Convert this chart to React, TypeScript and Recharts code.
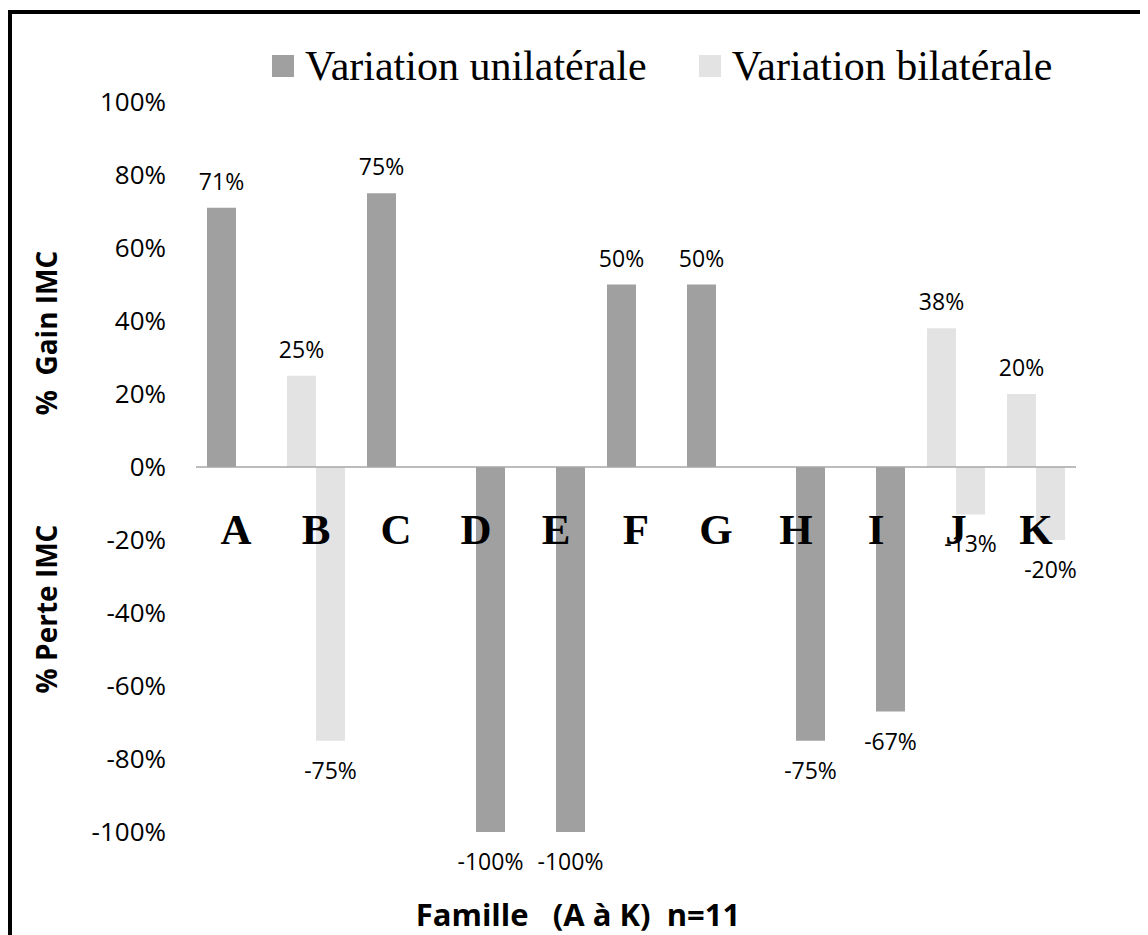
import { BarChart, Bar, XAxis, YAxis, ReferenceLine, Legend, LabelList, Label } from "recharts";

// Families A..K, BMI change per family (percent)
const families = ["A", "B", "C", "D", "E", "F", "G", "H", "I", "J", "K"];
const uniGain = [71, null, 75, null, null, 50, 50, null, null, null, null];
const biGain = [null, 25, null, null, null, null, null, null, null, 38, 20];
const uniLoss = [null, null, null, -100, -100, null, null, -75, -67, null, null];
const biLoss = [null, -75, null, null, null, null, null, null, null, -13, -20];
const yTicks = [-100, -80, -60, -40, -20, 0, 20, 40, 60, 80, 100];
const legendOrder = ["Variation unilatérale", "Variation bilatérale"];

const UNI_COLOR = "#a0a0a0";
const BI_COLOR = "#e3e3e3";

const W = 1140;
const H = 927;

const data = families.map((f, i) => ({
    famille: f,
    uniGain: uniGain[i],
    biGain: biGain[i],
    uniLoss: uniLoss[i],
    biLoss: biLoss[i],
}));

const sans = '"Open Sans", sans-serif';
const serif = '"Liberation Serif", "Times New Roman", serif';

// percent label above positive bars, below negative ones
const ValueLabel = (props: any) => {
    const { x, y, width, height, value } = props;
    if (value === null || value === undefined) return null;
    const top = Math.min(y, y + height);
    const bottom = Math.max(y, y + height);
    const cx = x + width / 2;
    const ty = value >= 0 ? top - 18 : bottom + 38;
    return (
        <text x={cx} y={ty} textAnchor="middle" fontFamily={sans} fontSize={23} fill="#000">
            {value}%
        </text>
    );
};

// family letters sit just under the zero line
const FamilyTick = (props: any) => {
    const { x, y, payload } = props;
    return (
        <text x={x} y={y - 288} textAnchor="middle" fontFamily={serif} fontWeight="bold" fontSize={43} fill="#000">
            {payload.value}
        </text>
    );
};

const YTitles = () => (
    <g fontFamily={sans} fontWeight="bold" fontSize={28} fill="#000">
        <text transform="translate(49,325) rotate(-90)" textAnchor="middle" style={{ whiteSpace: "pre" }}>
            {"%  Gain IMC"}
        </text>
        <text transform="translate(49,601) rotate(-90)" textAnchor="middle" style={{ whiteSpace: "pre" }}>
            {"% Perte IMC"}
        </text>
    </g>
);

const XTitle = () => (
    <text x={W / 2} y={918} textAnchor="middle" fontFamily={sans} fontWeight="bold" fontSize={31} fill="#000" style={{ whiteSpace: "pre" }}>
        {"Famille   (A à K)  n=11"}
    </text>
);

const LegendContent = (props: any) => {
    const items = (props.payload || [])
        .filter((p: any) => p.type !== "none")
        .sort((a: any, b: any) => legendOrder.indexOf(a.value) - legendOrder.indexOf(b.value));
    return (
        <div style={{ display: "flex", alignItems: "center" }}>
            {items.map((it: any) => (
                <div key={it.value} style={{ display: "flex", alignItems: "center", marginRight: 52 }}>
                    <span style={{ display: "inline-block", width: 22, height: 22, background: it.color, marginRight: 11 }} />
                    <span style={{ fontFamily: serif, fontSize: 42, color: "#000", lineHeight: 1.1, whiteSpace: "nowrap" }}>
                        {it.value}
                    </span>
                </div>
            ))}
        </div>
    );
};

export default function App() {
    return (
        <div style={{ position: "relative", width: W, height: H }}>
            <div
                style={{
                    position: "absolute",
                    left: 0,
                    top: 2,
                    width: W,
                    height: H - 2,
                    borderTop: "4px solid #000",
                    borderLeft: "4px solid #000",
                    boxSizing: "border-box",
                }}
            />
            <BarChart
                width={W}
                height={H}
                data={data}
                margin={{ top: 94, right: 72, bottom: 73, left: 0 }}
                barCategoryGap={11}
                barGap={0}
            >
                <XAxis
                    dataKey="famille"
                    axisLine={false}
                    tickLine={false}
                    tickSize={0}
                    tickMargin={0}
                    height={30}
                    tick={<FamilyTick />}
                    interval={0}
                >
                    <Label content={<XTitle />} />
                </XAxis>
                <YAxis
                    type="number"
                    domain={[-100, 100]}
                    ticks={yTicks}
                    width={188}
                    axisLine={false}
                    tickLine={false}
                    tickSize={0}
                    tickMargin={30}
                    tickFormatter={(v: number) => `${v}%`}
                    tick={{ fontFamily: sans, fontSize: 26, fill: "#000" }}
                >
                    <Label content={<YTitles />} />
                </YAxis>
                <Legend
                    verticalAlign="middle"
                    align="center"
                    layout="horizontal"
                    content={<LegendContent />}
                    wrapperStyle={{ top: 35, left: 264, width: 840 }}
                />
                <Bar dataKey="uniGain" name="Variation unilatérale" stackId="gain" fill={UNI_COLOR} isAnimationActive={false}>
                    <LabelList dataKey="uniGain" content={<ValueLabel />} />
                </Bar>
                <Bar dataKey="biGain" name="Variation bilatérale" stackId="gain" fill={BI_COLOR} isAnimationActive={false}>
                    <LabelList dataKey="biGain" content={<ValueLabel />} />
                </Bar>
                <Bar dataKey="uniLoss" stackId="loss" fill={UNI_COLOR} legendType="none" isAnimationActive={false}>
                    <LabelList dataKey="uniLoss" content={<ValueLabel />} />
                </Bar>
                <Bar dataKey="biLoss" stackId="loss" fill={BI_COLOR} legendType="none" isAnimationActive={false}>
                    <LabelList dataKey="biLoss" content={<ValueLabel />} />
                </Bar>
                <ReferenceLine y={0} stroke="#a6a6a6" strokeWidth={1.5} />
            </BarChart>
        </div>
    );
}
